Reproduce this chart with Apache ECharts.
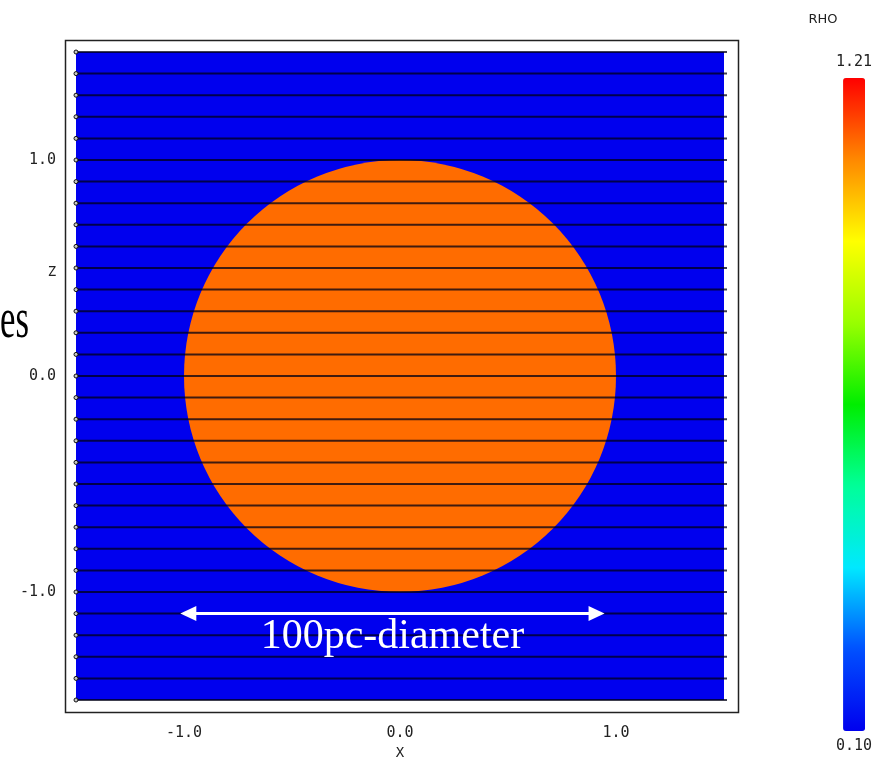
<!DOCTYPE html>
<html>
<head>
<meta charset="utf-8">
<script src="https://cdn.jsdelivr.net/npm/echarts@6/dist/echarts.min.js"></script>
<style>
  html, body { margin: 0; padding: 0; background: #fff; }
  #chart { width: 885px; height: 770px; }
</style>
</head>
<body>
<div id="chart"></div>
<script>
// Plot window in code units (x horizontal, z vertical)
const X_EXTENT = [-1.5, 1.5];
const Z_EXTENT = [-1.5, 1.5];
const AXIS_TICKS = [-1.0, 0.0, 1.0];

// Colour bar limits for the density RHO
const RHO_RANGE = [0.10, 1.21];

// Ambient medium: [rho, x0, z0, x1, z1]
const AMBIENT = [[0.10, -1.5, -1.5, 1.5, 1.5]];

// Spherical cloud slice: [rho, xc, zc, radius]
const CLOUD = [[1.10, 0.0, 0.0, 1.0]];

// Heights at which the horizontal stream lines are seeded
const STREAM_Z = [
  -1.5, -1.4, -1.3, -1.2, -1.1, -1.0, -0.9, -0.8, -0.7, -0.6, -0.5,
  -0.4, -0.3, -0.2, -0.1, 0.0, 0.1, 0.2, 0.3, 0.4, 0.5,
  0.6, 0.7, 0.8, 0.9, 1.0, 1.1, 1.2, 1.3, 1.4, 1.5
];

// Diameter annotation: arrow end points [x, z] and its caption
const DIAMETER_ARROW = [[-0.98, -1.1], [0.91, -1.1]];
const DIAMETER_TEXT = '100pc-diameter';

const TICK_FONT = 'DejaVu Sans Mono';
const fmt1 = v => v.toFixed(1);
const fmt2 = v => v.toFixed(2);

const chart = echarts.init(document.getElementById('chart'), null, { renderer: 'canvas' });

function framedAxis(extra) {
  return Object.assign({
    type: 'value',
    gridIndex: 0,
    axisLine: { show: false },
    splitLine: { show: false },
    axisTick: {
      show: true, inside: true, length: 10,
      customValues: AXIS_TICKS,
      lineStyle: { color: '#222', width: 1.5 }
    },
    axisLabel: { show: false }
  }, extra);
}

const tickLabel = {
  show: true,
  customValues: AXIS_TICKS,
  formatter: fmt1,
  fontFamily: TICK_FONT,
  fontSize: 15,
  color: '#222'
};

const option = {
  animation: false,
  backgroundColor: '#fff',
  grid: { left: 76, top: 52, width: 648, height: 648, containLabel: false },
  xAxis: [
    framedAxis({
      min: X_EXTENT[0], max: X_EXTENT[1], position: 'bottom', offset: 13,
      name: 'X', nameLocation: 'middle', nameGap: 33,
      nameTextStyle: { fontFamily: TICK_FONT, fontSize: 14, color: '#222' },
      axisLabel: Object.assign({}, tickLabel, { margin: 13 })
    }),
    framedAxis({ min: X_EXTENT[0], max: X_EXTENT[1], position: 'top', offset: 12 })
  ],
  yAxis: [
    framedAxis({
      min: Z_EXTENT[0], max: Z_EXTENT[1], position: 'left', offset: 11,
      axisLabel: Object.assign({}, tickLabel, { margin: 9 })
    }),
    framedAxis({ min: Z_EXTENT[0], max: Z_EXTENT[1], position: 'right', offset: 15 })
  ],
  visualMap: {
    type: 'continuous',
    min: RHO_RANGE[0], max: RHO_RANGE[1],
    dimension: 0,
    seriesIndex: [0, 1],
    calculable: false,
    hoverLink: false,
    orient: 'vertical',
    left: 836, top: 55,
    itemWidth: 22, itemHeight: 653,
    padding: 0,
    text: [fmt2(RHO_RANGE[1]), fmt2(RHO_RANGE[0])],
    textGap: 8,
    textStyle: { fontFamily: TICK_FONT, fontSize: 15, color: '#222' },
    inRange: {
      color: ['#0000ee', '#0050ff', '#00e8ff', '#00ff99', '#00ee00',
              '#99ff00', '#ffff00', '#ff8800', '#ff0000']
    }
  },
  graphic: [
    { type: 'rect', silent: true,
      shape: { x: 65.5, y: 40.5, width: 673, height: 672 },
      style: { fill: null, stroke: '#222', lineWidth: 1.5 } },
    { type: 'text', silent: true, x: 52, y: 272,
      style: { text: 'Z', font: '14px "DejaVu Sans Mono"', fill: '#222', align: 'center', verticalAlign: 'middle' } },
    { type: 'text', silent: true, x: 823, y: 20,
      style: { text: 'RHO', font: '13px "DejaVu Sans"', fill: '#222', align: 'center', verticalAlign: 'middle' } },
    { type: 'text', silent: true, x: 0, y: 322, scaleX: 0.6,
      style: { text: 'es', font: '58px "Liberation Serif"', fill: '#000', align: 'left', verticalAlign: 'middle' } }
  ],
  series: [
    {
      name: 'ambient',
      type: 'custom',
      coordinateSystem: 'cartesian2d',
      encode: { x: [1, 3], y: [2, 4] },
      silent: true,
      data: AMBIENT,
      renderItem(params, api) {
        const p0 = api.coord([api.value(1), api.value(4)]);
        const p1 = api.coord([api.value(3), api.value(2)]);
        return {
          type: 'rect',
          shape: { x: p0[0], y: p0[1], width: p1[0] - p0[0], height: p1[1] - p0[1] },
          style: { fill: api.visual('color') }
        };
      }
    },
    {
      name: 'cloud',
      type: 'custom',
      coordinateSystem: 'cartesian2d',
      encode: { x: 1, y: 2 },
      silent: true,
      data: CLOUD,
      renderItem(params, api) {
        const c = api.coord([api.value(1), api.value(2)]);
        const r = api.size([api.value(3), 0])[0];
        return {
          type: 'circle',
          shape: { cx: c[0], cy: c[1], r: r },
          style: { fill: api.visual('color') }
        };
      }
    },
    {
      name: 'streamlines',
      type: 'custom',
      coordinateSystem: 'cartesian2d',
      encode: { x: 0, y: 1 },
      silent: true,
      data: STREAM_Z.map(z => [X_EXTENT[0], z]),
      renderItem(params, api) {
        const z = api.value(1);
        const a = api.coord([X_EXTENT[0], z]);
        const b = api.coord([X_EXTENT[1], z]);
        return {
          type: 'group',
          children: [
            { type: 'line', shape: { x1: a[0], y1: a[1], x2: b[0] + 3, y2: b[1] },
              style: { stroke: 'rgba(0,0,20,0.75)', lineWidth: 2 } },
            { type: 'circle', shape: { cx: a[0], cy: a[1], r: 2 },
              style: { fill: '#c8c8c8', stroke: '#111', lineWidth: 1 } }
          ]
        };
      },
      markLine: {
        silent: true,
        animation: false,
        symbol: ['triangle', 'triangle'],
        symbolSize: [15, 16],
        lineStyle: { color: '#fff', width: 3, type: 'solid', opacity: 1 },
        label: {
          show: true,
          position: 'insideMiddleBottom',
          formatter: DIAMETER_TEXT,
          color: '#fff',
          fontFamily: 'Liberation Serif',
          fontSize: 42,
          distance: 2
        },
        emphasis: { disabled: true },
        data: [[{ coord: DIAMETER_ARROW[0] }, { coord: DIAMETER_ARROW[1] }]]
      }
    }
  ]
};

chart.setOption(option);
</script>
</body>
</html>
